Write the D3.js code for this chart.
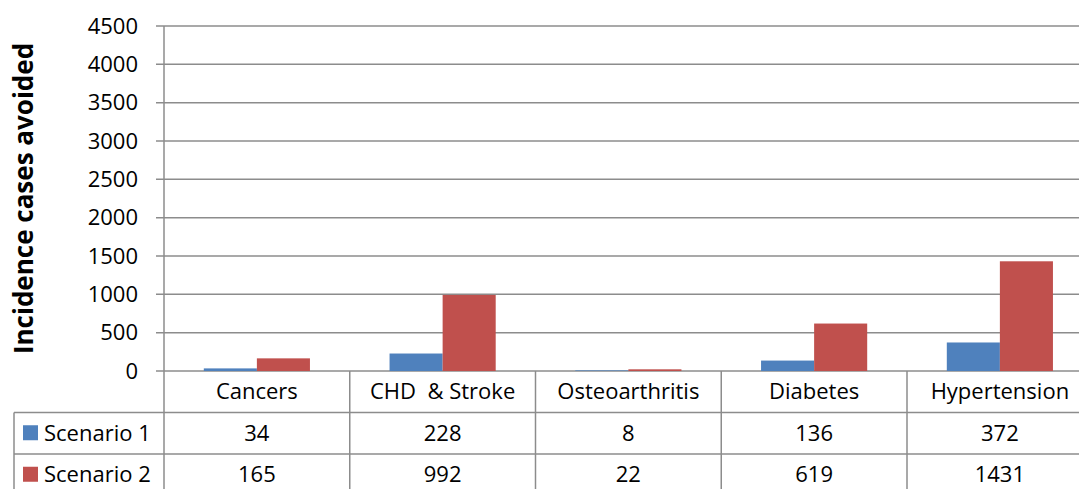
<!DOCTYPE html>
<html>
<head>
<meta charset="utf-8">
<script src="https://cdn.jsdelivr.net/npm/d3@7"></script>
<style>
  body { margin: 0; background: #fff; }
  text { font-family: "Open Sans", Lato, sans-serif; fill: #000; }
</style>
</head>
<body>
<div class="chart"></div>
<script>
var categories = ["Cancers", "CHD  & Stroke", "Osteoarthritis", "Diabetes", "Hypertension"];
var seriesNames = ["Scenario 1", "Scenario 2"];
var scenario1 = [34, 228, 8, 136, 372];
var scenario2 = [165, 992, 22, 619, 1431];
var yTicks = [0, 500, 1000, 1500, 2000, 2500, 3000, 3500, 4000, 4500];
var colors = ["#4F81BD", "#C0504D"];

var width = 1079, height = 489;
var plotLeft = 164, plotTop = 26, plotBottom = 371;
var catWidth = 185.75;
var rowH = 41.5;
var gridColor = "#8c8c8c";
var fs = "22px";

var svg = d3.select(".chart").append("svg")
    .attr("width", width)
    .attr("height", height);

var x = d3.scaleBand()
    .domain(categories)
    .range([plotLeft, plotLeft + catWidth * categories.length])
    .padding(0);

var x1 = d3.scaleBand()
    .domain(seriesNames)
    .range([0, x.bandwidth()])
    .paddingInner(0)
    .paddingOuter(0.75);

var y = d3.scaleLinear()
    .domain([0, 4500])
    .range([plotBottom, plotTop]);

// gridlines + tick labels
svg.append("g").selectAll("line")
  .data(yTicks)
  .enter().append("line")
    .attr("x1", plotLeft - 8)
    .attr("x2", width)
    .attr("y1", function(d) { return y(d); })
    .attr("y2", function(d) { return y(d); })
    .attr("stroke", gridColor)
    .attr("stroke-width", 1.5);

svg.append("g").selectAll("text")
  .data(yTicks)
  .enter().append("text")
    .attr("x", 138)
    .attr("y", function(d) { return y(d); })
    .attr("dy", "0.35em")
    .attr("text-anchor", "end")
    .style("font-size", fs)
    .text(function(d) { return d; });

// bars
var data = categories.map(function(c, i) {
  return { cat: c, values: [scenario1[i], scenario2[i]] };
});

var groups = svg.append("g").selectAll("g")
  .data(data)
  .enter().append("g")
    .attr("transform", function(d) { return "translate(" + x(d.cat) + ",0)"; });

groups.selectAll("rect")
  .data(function(d) { return d.values.map(function(v, j) { return { s: seriesNames[j], v: v, j: j }; }); })
  .enter().append("rect")
    .attr("x", function(d) { return x1(d.s); })
    .attr("width", x1.bandwidth())
    .attr("y", function(d) { return y(d.v); })
    .attr("height", function(d) { return plotBottom - y(d.v); })
    .attr("fill", function(d) { return colors[d.j]; });

// y axis line
svg.append("line")
    .attr("x1", plotLeft).attr("x2", plotLeft)
    .attr("y1", plotTop).attr("y2", height)
    .attr("stroke", gridColor)
    .attr("stroke-width", 1.5);

// data table
var tableRight = plotLeft + catWidth * categories.length;
[plotBottom + rowH, plotBottom + 2 * rowH].forEach(function(yy) {
  svg.append("line")
      .attr("x1", 14).attr("x2", tableRight)
      .attr("y1", yy).attr("y2", yy)
      .attr("stroke", gridColor).attr("stroke-width", 1.5);
});
svg.append("line")
    .attr("x1", 14).attr("x2", 14)
    .attr("y1", plotBottom + rowH).attr("y2", height)
    .attr("stroke", gridColor).attr("stroke-width", 1.5);

// vertical dividers
svg.append("g").selectAll("line")
  .data(categories)
  .enter().append("line")
    .attr("x1", function(d) { return x(d) + x.bandwidth(); })
    .attr("x2", function(d) { return x(d) + x.bandwidth(); })
    .attr("y1", plotBottom)
    .attr("y2", height)
    .attr("stroke", gridColor)
    .attr("stroke-width", 1.5);

// category labels
svg.append("g").selectAll("text")
  .data(categories)
  .enter().append("text")
    .attr("x", function(d) { return x(d) + x.bandwidth() / 2; })
    .attr("y", plotBottom + rowH / 2)
    .attr("dy", "0.35em")
    .attr("text-anchor", "middle")
    .style("font-size", fs)
    .style("white-space", "pre")
    .text(function(d) { return d; });

// value rows
[scenario1, scenario2].forEach(function(vals, r) {
  var cy = plotBottom + rowH * (r + 1) + rowH / 2;
  svg.append("rect")
      .attr("x", 23).attr("y", cy - 8)
      .attr("width", 15).attr("height", 15)
      .attr("fill", colors[r]);
  svg.append("text")
      .attr("x", 44).attr("y", cy)
      .attr("dy", "0.35em")
      .style("font-size", fs)
      .text(seriesNames[r]);
  svg.append("g").selectAll("text")
    .data(vals)
    .enter().append("text")
      .attr("x", function(d, i) { return x(categories[i]) + x.bandwidth() / 2; })
      .attr("y", cy)
      .attr("dy", "0.35em")
      .attr("text-anchor", "middle")
      .style("font-size", fs)
      .text(function(d) { return d; });
});

// y axis title
svg.append("text")
    .attr("transform", "translate(33," + ((plotTop + plotBottom) / 2) + ") rotate(-90)")
    .attr("text-anchor", "middle")
    .style("font-size", "26px")
    .style("font-weight", "bold")
    .text("Incidence cases avoided");
</script>
</body>
</html>
